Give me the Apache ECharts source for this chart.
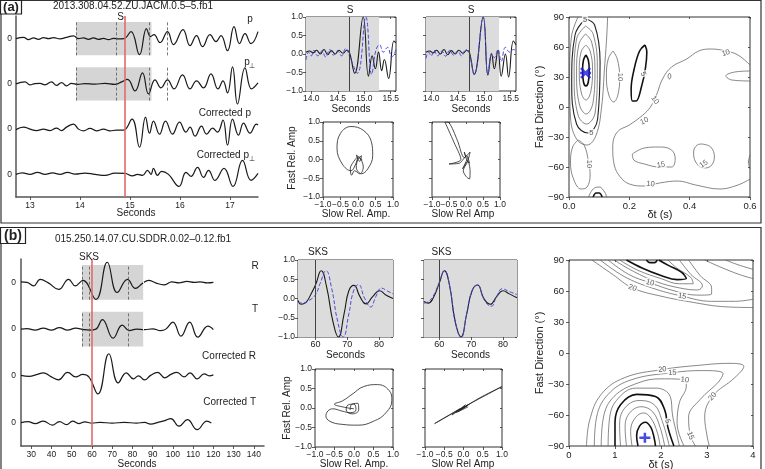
<!DOCTYPE html>
<html><head><meta charset="utf-8">
<script src="https://cdn.jsdelivr.net/npm/echarts@6/dist/echarts.min.js"></script>
<style>html,body{margin:0;padding:0;background:#fff}#c{width:765px;height:469px}</style>
</head><body><div id="c"></div><script>
// ---------------- DATA ----------------
// Panel (a) seismograms: [time s, relative amplitude]
const aTraceP = [[12.72,0],[12.87,1.3],[12.97,-1],[13.07,0.7],[13.17,-0.7],[13.27,1],[13.37,0],[13.47,1],[13.6,-0.3],[13.73,1.3],[13.87,2.7],[13.97,0],[14.07,0.7],[14.17,-0.7],[14.27,0.7],[14.37,-0.7],[14.47,0.3],[14.57,-1],[14.67,0.3],[14.77,-0.3],[14.88,0],[15.02,7],[15.19,-16],[15.33,10],[15.41,2],[15.48,4],[15.6,-4],[15.75,7],[15.87,-6],[16.06,9],[16.2,-7],[16.33,3],[16.45,-8],[16.6,4],[16.72,-3],[16.82,3],[16.95,-12],[17.08,12],[17.19,-5],[17.3,5],[17.42,-5],[17.56,7]];
const aTracePerp = [[12.72,0],[12.9,2],[13.0,-1],[13.1,0.3],[13.2,0.5],[13.3,-1],[13.43,2],[13.53,-1.5],[13.63,1.3],[13.73,-2],[13.83,0.5],[13.95,-0.5],[14.1,0.3],[14.3,-0.3],[14.5,0.5],[14.7,-0.5],[14.82,1.7],[14.95,4.5],[15.1,-7],[15.25,11],[15.37,-10],[15.5,4],[15.62,-4],[15.75,4],[15.88,-5],[16.05,9],[16.2,-5],[16.33,3],[16.47,-4],[16.62,10],[16.76,-5],[16.86,3],[16.95,-9],[17.05,17],[17.15,-20],[17.3,16],[17.43,-5],[17.56,1]];
const aTraceCorrP = [[12.72,-0.5],[12.87,2],[13.0,0],[13.13,-1.5],[13.27,0],[13.4,-1.5],[13.53,1],[13.63,-1.5],[13.73,2],[13.87,5],[13.97,0],[14.07,-1.7],[14.2,0.7],[14.33,-1.7],[14.47,0],[14.6,-1.7],[14.73,-1],[14.87,-1],[15.04,10],[15.19,-18],[15.31,12],[15.39,-4],[15.47,8],[15.59,-5],[15.71,8],[15.85,-5],[15.99,7],[16.12,-3],[16.2,2],[16.3,-7],[16.43,3],[16.53,-5],[16.65,1],[16.75,-3],[16.86,9],[16.95,-16],[17.05,10],[17.17,-6],[17.27,6],[17.4,-4],[17.53,5],[17.56,4]];
const aTraceCorrPerp = [[12.72,0],[12.85,1.5],[13.0,0],[13.15,2],[13.3,0],[13.45,1.5],[13.6,0],[13.75,2],[13.9,0.3],[14.1,1.3],[14.3,0],[14.5,-1],[14.7,1.3],[14.9,1],[15.05,-1.5],[15.15,0],[15.25,-1],[15.35,4],[15.42,0],[15.47,6],[15.55,-1],[15.63,3],[15.77,0],[15.98,-12],[16.12,2],[16.22,-2],[16.35,7],[16.47,-3],[16.57,4],[16.7,-6],[16.88,6],[17.06,-12],[17.25,14],[17.42,-6],[17.56,1]];
const aBaselines = [3.5, 2.5, 1.5, 0.5];
const aWindow = [13.92, 15.43];
const aPicks = [13.92, 14.72, 15.38, 15.75];
const aArrival = 14.89;
const aTimeTicks = [13, 14, 15, 16, 17];

// Panel (a) fast/slow windows [time, normalised amp]
const aFastS = [[13.9,0.05],[13.97,0.08],[14.03,0.03],[14.1,0.1],[14.17,0.0],[14.24,0.12],[14.31,-0.02],[14.38,0.09],[14.45,0.0],[14.52,0.1],[14.6,0.02],[14.67,0.1],[14.72,0.04],[14.82,-0.52],[14.98,1.0],[15.08,-0.6],[15.15,-0.05],[15.21,-0.4],[15.27,0.05],[15.33,-0.45],[15.38,-0.15],[15.46,-0.66],[15.56,0.35],[15.6,0.3]];
const aSlowS = [[13.9,-0.16],[13.95,0.05],[14.0,-0.05],[14.05,0.1],[14.12,-0.05],[14.2,0.08],[14.27,-0.08],[14.35,0.12],[14.42,-0.03],[14.5,0.08],[14.57,-0.05],[14.65,0.15],[14.72,-0.05],[14.87,-0.52],[15.03,1.0],[15.14,-0.55],[15.22,0.1],[15.29,0.25],[15.36,0.05],[15.44,0.18],[15.52,-0.08],[15.6,0.12]];
const aFastCorr = [[13.9,0.05],[13.97,0.08],[14.03,0.03],[14.1,0.1],[14.17,0.0],[14.24,0.12],[14.31,-0.02],[14.38,0.09],[14.45,0.0],[14.52,0.1],[14.6,0.02],[14.67,0.1],[14.72,0.04],[14.81,-0.55],[14.98,1.0],[15.07,-0.57],[15.14,0.0],[15.19,-0.4],[15.26,0.1],[15.32,-0.6],[15.4,0.0],[15.46,-0.62],[15.55,0.35],[15.6,0.25]];
const aSlowCorr = [[13.9,-0.12],[13.95,0.05],[14.0,-0.05],[14.05,0.1],[14.12,-0.05],[14.2,0.08],[14.27,-0.06],[14.35,0.1],[14.42,-0.03],[14.5,0.08],[14.57,-0.05],[14.65,0.12],[14.72,-0.02],[14.81,-0.55],[14.98,1.0],[15.07,-0.55],[15.14,0.02],[15.19,-0.1],[15.26,0.12],[15.32,-0.2],[15.4,0.18],[15.48,0.05],[15.55,0.12],[15.6,0.1]];
const aMidWindow = [13.9, 15.28];
const aMidPick = 14.71;
const aMidTicks = [14.0, 14.5, 15.0, 15.5];

// Panel (a) particle motion [slow, fast]
const aPMRaw = [[0.02,0.05],[0.1,0.1],[0.05,-0.05],[-0.05,0.12],[0.08,0.0],[0.15,-0.2],[0.05,-0.38],[-0.1,-0.3],[-0.18,-0.42],[-0.22,-0.25],[-0.12,-0.05],[0.0,0.08],[-0.08,-0.15],[-0.2,-0.3],[-0.45,-0.12],[-0.6,0.3],[-0.5,0.7],[-0.2,0.88],[0.15,0.78],[0.38,0.48],[0.42,0.1],[0.28,-0.25],[0.1,-0.38],[-0.05,-0.2],[0.05,0.05],[0.12,-0.02]];
const aPMCorr = [[0.0,0.05],[-0.05,0.2],[0.02,0.0],[0.1,-0.1],[0.02,0.1],[-0.2,-0.1],[-0.5,-0.12],[-0.15,0.0],[-0.35,0.45],[-0.62,1.0],[-0.5,0.98],[-0.25,0.5],[-0.05,0.05],[0.12,0.2],[0.05,-0.05],[-0.08,-0.3],[0.0,-0.45],[0.1,-0.52],[0.12,-0.3],[0.05,-0.05],[-0.1,-0.25],[-0.02,-0.1],[0.05,0.05]];

// Panel (a) grid search contours [dt s, fast direction deg]
const aThickContours = [
  [[0.056,52],[0.064,47],[0.067,37],[0.064,25],[0.056,21],[0.048,25],[0.045,37],[0.048,47],[0.056,52]],
  [[0.252,62],[0.258,55],[0.253,38],[0.24,20],[0.222,6],[0.21,6],[0.206,18],[0.216,38],[0.234,56],[0.252,62]],
  [[0.08,-90],[0.09,-86],[0.1,-86],[0.11,-90]]
];
const aMidContours = [
  [[0.055,88],[0.085,82],[0.103,45],[0.095,-12],[0.062,-26],[0.025,-17],[0.009,25],[0.02,72],[0.055,88]]
];
const aThinContours = [
  [[0.056,62],[0.07,56],[0.078,38],[0.072,15],[0.056,7],[0.041,14],[0.034,35],[0.04,55],[0.056,62]],
  [[0.055,73],[0.075,65],[0.086,38],[0.08,5],[0.057,-7],[0.035,2],[0.025,33],[0.033,63],[0.055,73]],
  [[0.055,81],[0.08,73],[0.094,40],[0.087,-5],[0.058,-17],[0.03,-8],[0.017,30],[0.025,68],[0.055,81]],
  [[0.03,90],[0.008,70],[0.002,30],[0.005,-10],[0.025,-32],[0.06,-38],[0.09,-28],[0.108,0],[0.118,40],[0.125,70],[0.128,90]],
  [[0.146,56],[0.16,48],[0.168,30],[0.162,12],[0.148,5],[0.132,12],[0.124,30],[0.13,48],[0.146,56]],
  [[0.6,42],[0.56,52],[0.52,56],[0.47,58],[0.43,56],[0.39,48],[0.34,40],[0.31,28],[0.29,12],[0.27,0],[0.245,-8],[0.2,-18],[0.16,-25],[0.145,-40],[0.15,-58],[0.17,-70],[0.2,-77],[0.25,-79],[0.3,-76],[0.36,-74],[0.42,-78],[0.5,-82],[0.56,-78],[0.6,-72]],
  [[0.6,36],[0.55,35],[0.52,31],[0.54,27],[0.6,26]],
  [[0.21,-47],[0.25,-41],[0.3,-40],[0.34,-43],[0.352,-52],[0.34,-60],[0.3,-60],[0.25,-57],[0.215,-53],[0.21,-47]],
  [[0.44,-37],[0.47,-40],[0.482,-50],[0.47,-59],[0.445,-61],[0.42,-55],[0.413,-45],[0.425,-38],[0.44,-37]],
  [[0.03,-33],[0.05,-38],[0.065,-55],[0.07,-68],[0.06,-80],[0.04,-82],[0.015,-72],[0.005,-55],[0.012,-40],[0.03,-33]],
  [[0.065,-90],[0.08,-82],[0.1,-80],[0.118,-85],[0.125,-90]],
  [[0.333,34],[0.338,31],[0.333,28],[0.328,31],[0.333,34]],
  [[0.6,-48],[0.595,-55],[0.6,-62]]
];
const aContourLabels = [[0.053,87,'5',0],[0.074,-26,'5',0],[0.168,30,'10',-90],[0.246,33,'5',-70],[0.52,54,'10',20],[0.285,7,'10',-55],[0.25,-14,'10',25],[0.27,-77,'10',-8],[0.305,-58,'15',10],[0.447,-57,'15',35],[0.066,-57,'10',-90]];
const aBest = [[0.055, 34]];

// Panel (b) seismograms
const bTraceR = [[25,0.5],[28,0],[31.2,-3.5],[34.5,3],[38.5,-0.5],[43.6,-7],[48.5,3],[51.8,-3.5],[55.6,2],[62,-17],[67.6,20],[72.5,-10],[77.6,3],[81.5,-6],[85,-1],[88,2],[91.5,-0.5],[95.5,-2.5],[99.5,0.5],[103,-0.5],[107,1],[110.5,0],[113.5,0.5],[117,-0.5],[120,0]];
const bTraceT = [[25,0],[28,0.5],[32,-1],[36,1],[40,-1],[44,1.5],[48,-1],[52,1],[56,-0.5],[59,-1],[62,0],[65.2,9.5],[70.5,-9],[75,4],[78.5,-1.5],[82,0],[86,-0.5],[90,0.3],[94,-1.5],[96.5,0],[100,7],[104,-7],[108.3,7],[112.3,-8],[117.3,3],[120,-0.5]];
const bTraceCorrR = [[25,0.5],[29,-0.5],[33,1.5],[36,3],[40,-1],[43.5,-4],[48,3.5],[52,-1],[55.5,1.5],[58.5,-1],[63,-18],[68.4,22],[73,-7],[77,3],[80.5,-3],[83,0],[86,-4],[89,0.5],[92.5,3.5],[96,-2],[99,1.5],[102,3.5],[105.5,-1],[108.5,3],[112,-3],[115.5,2],[118,0],[120,1]];
const bTraceCorrT = [[25,0],[28.5,1],[32,-1],[36,1.5],[40.5,-2.5],[44,1],[47.5,-2],[50.5,1.5],[53.5,-1],[56.5,0.8],[60,-0.5],[64,0.3],[70,-0.5],[76,0.3],[82,-0.5],[86,0.3],[89,-1.5],[93,0.5],[96,2],[99,4],[103,-3.5],[107.2,3],[112,-7],[116.8,1.5],[119,-0.5]];
const bBaselines = [3.5, 2.5, 1.5, 0.5];
const bWindow = [55.1, 85.3];
const bPicks = [55.1, 58.7, 78.2];
const bArrival = 60;
const bTimeTicks = [30,40,50,60,70,80,90,100,110,120,130,140];

const bFastS = [[54.5,-0.05],[55.5,-0.15],[57,-0.1],[58.5,0.1],[60,0.35],[61.8,0.72],[63.5,0.3],[65.5,-0.6],[67.2,-1.0],[69,-0.4],[70.5,0.2],[72.1,0.34],[74,0.05],[75.9,-0.14],[78,0.05],[80.2,0.2],[82,0.1],[84.4,0.0]];
const bSlowS = [[54.5,-0.1],[56,-0.12],[58,-0.05],[60,0.1],[61.5,0.4],[63.3,0.72],[65,0.3],[67,-0.6],[68.7,-1.0],[70.5,-0.4],[72,0.2],[73.5,0.36],[75.5,0.0],[77.4,-0.22],[79,0.05],[80.8,0.27],[82.5,0.2],[84.4,0.12]];
const bFastCorr = [[55.2,-0.08],[56.5,-0.12],[58,0.0],[60,0.4],[61.6,0.72],[63.2,0.35],[65,-0.6],[66.8,-1.0],[68.6,-0.4],[70.3,0.2],[72,0.35],[74,0.0],[76,-0.15],[78,0.05],[80,0.2],[82,0.12],[84.4,0.02]];
const bSlowCorr = [[55.2,-0.12],[56.5,-0.08],[58,0.05],[60,0.42],[61.6,0.72],[63.2,0.35],[65,-0.6],[66.8,-1.0],[68.6,-0.4],[70.3,0.2],[72,0.35],[74,-0.02],[76.3,-0.2],[78,0.05],[79.8,0.25],[82,0.18],[84.4,0.1]];
const bMidPick = 60;
const bMidTicks = [60, 70, 80];

const bPMRaw = [[-0.1,-0.05],[-0.05,0.1],[0.1,0.12],[0.12,-0.05],[-0.05,-0.15],[-0.2,-0.05],[-0.15,0.08],[0.0,0.1],[0.05,-0.05],[-0.1,-0.12],[-0.3,-0.08],[-0.55,-0.02],[-0.72,-0.2],[-0.62,-0.34],[-0.3,-0.42],[0.1,-0.44],[0.5,-0.34],[0.82,-0.12],[0.97,0.2],[0.9,0.45],[0.6,0.6],[0.25,0.55],[-0.05,0.35],[-0.3,0.18],[-0.5,0.1],[-0.25,0.02],[0.0,-0.02]];
const bPMCorr = [[0.0,0.0],[0.15,0.1],[-0.1,-0.05],[0.05,0.08],[-0.3,-0.18],[-0.1,-0.02],[-0.75,-0.4],[0.0,0.02],[1.0,0.55],[0.4,0.25],[-0.2,-0.12],[0.1,0.06],[-0.15,-0.1],[0.12,0.03]];

const bThickContours = [
  [[1.68,90],[1.76,87.5],[1.86,87.5],[1.92,90]],
  [[1.25,90],[1.6,82],[2.0,75],[2.35,71],[2.55,72],[2.45,78],[2.15,85],[1.95,90]],
  [[1.5,-90],[1.47,-80],[1.53,-71],[1.66,-67],[1.78,-72],[1.85,-82],[1.88,-90]],
  [[1.0,-90],[1.0,-67],[1.12,-50],[1.47,-40],[1.88,-42],[2.08,-55],[2.15,-72],[2.28,-90]]
];
const bThinContours = [
  [[1.1,90],[1.5,80],[2.0,72],[2.4,67],[2.7,67],[2.65,73],[2.35,82],[2.15,90]],
  [[0.98,90],[1.4,79],[1.9,69],[2.4,63],[2.8,61],[2.9,65],[2.65,76],[2.4,90]],
  [[0.85,90],[1.3,76],[1.76,68],[2.3,60],[2.8,56],[3.1,57],[3.1,63],[2.85,75],[2.6,90]],
  [[0.68,90],[1.2,74],[1.8,63],[2.46,55],[3.1,50],[3.6,50],[4.0,52]],
  [[0.5,90],[0.95,76],[1.38,63],[2.0,55],[2.7,49],[3.3,45],[4.0,44]],
  [[2.95,90],[3.3,83],[3.7,76],[4.0,72]],
  [[3.4,90],[3.7,85],[4.0,81]],
  [[1.37,-90],[1.34,-76],[1.42,-64],[1.62,-58],[1.78,-63],[1.92,-77],[1.98,-90]],
  [[1.25,-90],[1.22,-73],[1.3,-59],[1.57,-52],[1.82,-57],[1.98,-72],[2.08,-90]],
  [[1.12,-90],[1.1,-70],[1.2,-54],[1.52,-46],[1.85,-50],[2.02,-65],[2.18,-90]],
  [[0.85,-90],[0.88,-64],[1.03,-46],[1.45,-34],[1.9,-34],[2.2,-42],[2.25,-60],[2.35,-80],[2.4,-90]],
  [[0.7,-90],[0.75,-62],[0.98,-42],[1.5,-29],[2.0,-25],[2.52,-26],[2.55,-32],[2.4,-48],[2.35,-68],[2.5,-90]],
  [[0.55,-90],[0.6,-62],[0.85,-40],[1.35,-26],[2.25,-19],[2.9,-17],[3.35,-20],[3.25,-28],[2.85,-45],[2.6,-62],[2.64,-80],[2.75,-90]],
  [[0.38,-90],[0.45,-65],[0.7,-40],[1.2,-24],[2.03,-16],[2.8,-12],[3.5,-10],[3.8,-13],[3.6,-24],[3.12,-42],[2.95,-62],[3.0,-80],[3.05,-90]]
];
const bContourLabels = [[1.76,68,'10',-15],[1.38,63,'20',-22],[2.46,55,'15',-10],[2.03,-16,'20',5],[2.25,-19,'15',3],[2.52,-26,'10',-5],[3.12,-42,'20',52],[2.64,-80,'15',-70],[2.14,-66,'5',-65]];
const bBest = [[1.65, -82]];

// ---------------- CHART ----------------
const FONT = '"Liberation Sans", Arial, Helvetica, sans-serif';
const TXT = '#222';
const AX = '#333';
const aGain = 1 / 45, bGain = 1 / 46.5;
const minus = v => String(v).replace('-', '\u2212');
const f1 = v => minus(v.toFixed(1));

const grids = [
  {left:16, top:16, width:242, height:181},
  {left:306, top:17, width:90, height:74},
  {left:426, top:17, width:90, height:74},
  {left:323, top:122, width:70, height:75},
  {left:432, top:122, width:68, height:75},
  {left:569, top:17, width:181, height:180},
  {left:21, top:259, width:243, height:187},
  {left:298, top:260, width:95, height:77},
  {left:424, top:260, width:93, height:77},
  {left:315, top:369, width:78, height:78},
  {left:425, top:369, width:77, height:78},
  {left:569, top:260, width:184, height:186}
].map((g, i) => Object.assign({containLabel:false}, g, (i === 0 || i === 6) ? {show:false} : {show:true, borderColor:AX, borderWidth:1, backgroundColor:'#fff'}));

const lbl = (extra) => Object.assign({color:TXT, fontFamily:FONT, fontSize:8.5, margin:3}, extra);
const tick = (extra) => Object.assign({show:true, length:3, lineStyle:{color:AX, width:0.8}}, extra);
function frameAxis(gi, min, max, interval, fmt, extra) {
  return Object.assign({gridIndex:gi, type:'value', min, max, interval,
    axisLine:{show:false, onZero:false}, splitLine:{show:false},
    axisTick:tick({}), axisLabel:lbl({formatter:fmt})}, extra || {});
}
const xAxes = [
  {gridIndex:0, type:'value', min:12.72, max:17.56, splitLine:{show:false},
    axisLine:{show:true, onZero:false, lineStyle:{color:'#555', width:1.5}},
    axisTick:tick({customValues:aTimeTicks}), axisLabel:lbl({customValues:aTimeTicks, margin:4})},
  frameAxis(1, 13.9, 15.6, null, f1, {axisTick:tick({customValues:aMidTicks}), axisLabel:lbl({customValues:aMidTicks, formatter:f1})}),
  frameAxis(2, 13.9, 15.6, null, f1, {axisTick:tick({customValues:aMidTicks}), axisLabel:lbl({customValues:aMidTicks, formatter:f1})}),
  frameAxis(3, -1, 1, 0.5, f1),
  frameAxis(4, -1, 1, 0.5, f1),
  frameAxis(5, 0, 0.6, 0.2, f1, {axisLabel:lbl({formatter:f1, fontSize:9.5, margin:4})}),
  {gridIndex:6, type:'value', min:25, max:145, splitLine:{show:false},
    axisLine:{show:true, onZero:false, lineStyle:{color:'#555', width:1.5}},
    axisTick:tick({customValues:bTimeTicks}), axisLabel:lbl({customValues:bTimeTicks, margin:4})},
  frameAxis(7, 54.5, 84.4, null, null, {axisTick:tick({customValues:bMidTicks}), axisLabel:lbl({customValues:bMidTicks, fontSize:9})}),
  frameAxis(8, 55.2, 84.4, null, null, {axisTick:tick({customValues:bMidTicks}), axisLabel:lbl({customValues:bMidTicks, fontSize:9})}),
  frameAxis(9, -1, 1, 0.5, f1),
  frameAxis(10, -1, 1, 0.5, f1),
  frameAxis(11, 0, 4, 1, v => String(v), {axisLabel:lbl({fontSize:9.5, margin:4})})
];
const yAxes = [
  {gridIndex:0, type:'value', min:0, max:4, splitLine:{show:false},
    axisLine:{show:true, onZero:false, lineStyle:{color:'#555', width:1.5}},
    axisTick:{show:false}, axisLabel:lbl({customValues:aBaselines, formatter:() => '0', margin:4})},
  frameAxis(1, -1, 1, 0.5, f1),
  frameAxis(2, -1, 1, 0.5, () => ''),
  frameAxis(3, -1, 1, 0.5, f1),
  frameAxis(4, -1, 1, 0.5, () => ''),
  frameAxis(5, -90, 90, 30, minus, {axisLabel:lbl({formatter:minus, fontSize:9.5, margin:5})}),
  {gridIndex:6, type:'value', min:0, max:4, splitLine:{show:false},
    axisLine:{show:true, onZero:false, lineStyle:{color:'#555', width:1.5}},
    axisTick:{show:false}, axisLabel:lbl({customValues:bBaselines, formatter:() => '0', margin:5})},
  frameAxis(7, -1, 1, 0.5, f1),
  frameAxis(8, -1, 1, 0.5, () => ''),
  frameAxis(9, -1, 1, 0.5, f1),
  frameAxis(10, -1, 1, 0.5, () => ''),
  frameAxis(11, -90, 90, 30, minus, {axisLabel:lbl({formatter:minus, fontSize:9.5, margin:5})})
];
// tick-only opposite sides (top / right) of the framed plots
[1,2,3,4,5,7,8,9,10,11].forEach(gi => {
  const bx = xAxes[gi], by = yAxes[gi];
  xAxes.push({gridIndex:gi, type:'value', position:'top', min:bx.min, max:bx.max, interval:bx.interval,
    axisLine:{show:false, onZero:false}, splitLine:{show:false}, axisLabel:{show:false},
    axisTick:tick({inside:true, length:2, customValues:bx.axisTick.customValues})});
  yAxes.push({gridIndex:gi, type:'value', position:'right', min:by.min, max:by.max, interval:by.interval,
    axisLine:{show:false, onZero:false}, splitLine:{show:false}, axisLabel:{show:false},
    axisTick:tick({inside:true, length:2})});
});

const series = [];
function line(gi, data, style, extra) {
  series.push(Object.assign({type:'line', xAxisIndex:gi, yAxisIndex:gi, data, showSymbol:false, symbol:'none',
    smooth:0.45, lineStyle:style, silent:true, animation:false, clip:true, z:3}, extra || {}));
}
const blackW = {color:'#1a1a1a', width:1.1};
// seismogram traces
[[aTraceP,0],[aTracePerp,1],[aTraceCorrP,2],[aTraceCorrPerp,3]].forEach(([tr, k]) =>
  line(0, tr.map(p => [p[0], aBaselines[k] + p[1] * aGain]), {color:'#1a1a1a', width:1.2}));
[[bTraceR,0],[bTraceT,1],[bTraceCorrR,2],[bTraceCorrT,3]].forEach(([tr, k]) =>
  line(6, tr.map(p => [p[0], bBaselines[k] + p[1] * bGain]), {color:'#1a1a1a', width:1.2}));

// windows / picks for seismograms
function traceMarkers(gi, win, picks, arrival, rightEdgeDotted) {
  const half = 0.37;
  const areas = [], lines = [];
  [0, 1].forEach(k => {
    const base = (gi === 0 ? aBaselines : bBaselines)[k];
    areas.push([{coord:[win[0], base - half]}, {coord:[win[1], base + half]}]);
    picks.forEach(p => lines.push([{coord:[p, base - half]}, {coord:[p, base + half]}]));
  });
  series.push({type:'line', xAxisIndex:gi, yAxisIndex:gi, data:[], z:1, silent:true, animation:false,
    markArea:{silent:true, itemStyle:{color:'#d5d5d5'}, data:areas},
    markLine:{silent:true, symbol:['none','none'], label:{show:false}, lineStyle:{color:'#555', type:[3,2], width:0.8}, data:lines}});
  if (rightEdgeDotted) {
    const edges = [0,1].map(k => { const base = bBaselines[k]; return [{coord:[win[1], base - half]}, {coord:[win[1], base + half]}]; });
    series.push({type:'line', xAxisIndex:gi, yAxisIndex:gi, data:[], z:2, silent:true, animation:false,
      markLine:{silent:true, symbol:['none','none'], label:{show:false}, lineStyle:{color:'#f4f4f4', type:[2,2], width:1}, data:edges}});
  }
  series.push({type:'line', xAxisIndex:gi, yAxisIndex:gi, data:[], z:5, silent:true, animation:false,
    markLine:{silent:true, symbol:['none','none'], label:{show:false}, lineStyle:{color:'#e46a6a', type:'solid', width:1.6}, data:[{xAxis:arrival}]}});
}
traceMarkers(0, aWindow, aPicks, aArrival, false);
traceMarkers(6, bWindow, bPicks, bArrival, true);

// mid window plots
function midMarkers(gi, x0, x1, pick) {
  series.push({type:'line', xAxisIndex:gi, yAxisIndex:gi, data:[], z:1, silent:true, animation:false,
    markArea:{silent:true, itemStyle:{color:'#dcdcdc'}, data:[[{coord:[x0,-1]},{coord:[x1,1]}]]},
    markLine:{silent:true, symbol:['none','none'], label:{show:false}, lineStyle:{color:'#444', type:'solid', width:1}, data:[{xAxis:pick}]}});
}
midMarkers(1, aMidWindow[0], aMidWindow[1], aMidPick);
midMarkers(2, aMidWindow[0], aMidWindow[1], aMidPick);
midMarkers(7, 54.5, 84.4, bMidPick);
midMarkers(8, 55.2, 84.4, bMidPick);
const blueD = {color:'#4a4ad8', width:1, type:[4,2]};
line(1, aFastS, blackW); line(1, aSlowS, blueD);
line(2, aFastCorr, blackW); line(2, aSlowCorr, blueD);
line(7, bFastS, blackW, {smooth:0.5}); line(7, bSlowS, blueD, {smooth:0.5});
line(8, bFastCorr, blackW, {smooth:0.5}); line(8, bSlowCorr, blueD, {smooth:0.5});

// particle motion
const pmStyle = {color:'#222', width:0.8};
line(3, aPMRaw, pmStyle, {smooth:0.4});
line(4, aPMCorr, pmStyle, {smooth:0.3});
line(9, bPMRaw, pmStyle, {smooth:0.45});
line(10, bPMCorr, pmStyle, {smooth:0.2});

// contours
function contours(gi, thin, mid, thick, labels, best, markerPath) {
  thin.forEach(c => line(gi, c, {color:'#555', width:0.7}, {smooth:0.4}));
  mid.forEach(c => line(gi, c, {color:'#222', width:1.1}, {smooth:0.4}));
  thick.forEach(c => line(gi, c, {color:'#111', width:1.6}, {smooth:0.4}));
  series.push({type:'scatter', xAxisIndex:gi, yAxisIndex:gi, symbolSize:0, silent:true, animation:false, z:6,
    data: labels.map(l => ({value:[l[0], l[1]], label:{show:true, position:'inside', formatter:l[2], rotate:l[3],
      color:'#333', fontFamily:FONT, fontSize:7.5, backgroundColor:'#fff', padding:[0,1]}}))});
  series.push({type:'scatter', xAxisIndex:gi, yAxisIndex:gi, data:best, symbol:markerPath, symbolSize:[11,10],
    itemStyle:{color:'rgba(0,0,0,0)', borderColor:'#1c1cdc', borderWidth:2.4}, silent:true, animation:false, z:7});
}
contours(5, aThinContours, aMidContours, aThickContours, aContourLabels, aBest, 'path://M0,0L10,10M10,0L0,10M-1,5L11,5');
contours(11, bThinContours, [], bThickContours, bContourLabels, bBest, 'path://M5,0L5,10M0,5L10,5');

// ---------------- TEXT / FRAMES ----------------
function T(text, x, y, opt) {
  opt = opt || {};
  return {type:'text', x, y, rotation: opt.rot || 0, z:10, silent:true,
    style:{text, fill:TXT, font:(opt.bold ? 'bold ' : '') + (opt.size || 10) + 'px ' + FONT,
      align:opt.align || 'center', textAlign:opt.align || 'center', verticalAlign:'middle', textVerticalAlign:'middle'}};
}
const R90 = Math.PI / 2;
const graphics = [
  {type:'rect', shape:{x:1, y:0.5, width:760, height:222.5}, style:{fill:'none', stroke:'#333', lineWidth:1.2}, z:0, silent:true},
  {type:'rect', shape:{x:1, y:227.5, width:760, height:250}, style:{fill:'none', stroke:'#333', lineWidth:1.2}, z:0, silent:true},
  {type:'rect', shape:{x:0.5, y:0.5, width:21, height:13.5}, style:{fill:'#fff', stroke:'#222', lineWidth:1.2}, z:9, silent:true},
  {type:'rect', shape:{x:0.5, y:227.5, width:25, height:16}, style:{fill:'#fff', stroke:'#222', lineWidth:1.2}, z:9, silent:true},
  T('(a)', 11, 7.5, {bold:true, size:13}),
  T('(b)', 13, 236, {bold:true, size:14}),
  // panel a
  T('2013.308.04.52.ZU.JACM.0.5\u20135.fb1', 133, 6),
  T('S', 120.5, 17),
  T('p', 250, 19),
  T('p', 247, 62), T('\u22a5', 252, 66, {size:7}),
  T('Corrected p', 251, 113, {align:'right'}),
  T('Corrected p', 249, 155, {align:'right'}), T('\u22a5', 251.5, 159, {size:7}),
  T('Seconds', 136, 213),
  T('S', 350, 10), T('S', 471, 10),
  T('Seconds', 351, 109), T('Seconds', 471, 109),
  T('Fast Rel. Amp', 292.5, 158, {rot:R90}),
  T('Slow Rel. Amp.', 356, 214), T('Slow Rel Amp', 463, 214),
  T('Fast Direction (\u00b0)', 539.5, 107, {rot:R90, size:11}),
  T('\u03b4t (s)', 660, 215, {size:11}),
  // panel b
  T('015.250.14.07.CU.SDDR.0.02\u20130.12.fb1', 143, 239),
  T('SKS', 89, 257),
  T('R', 255, 266), T('T', 255, 309),
  T('Corrected R', 256, 356, {align:'right'}),
  T('Corrected T', 256, 402, {align:'right'}),
  T('Seconds', 137, 464),
  T('SKS', 318, 252), T('SKS', 441.5, 252),
  T('Seconds', 345.5, 355.5), T('Seconds', 470.5, 355.5),
  T('Fast Rel. Amp', 287.5, 408, {rot:R90}),
  T('Slow Rel. Amp.', 354, 464), T('Slow Rel Amp', 463, 464),
  T('Fast Direction (\u00b0)', 539.5, 353, {rot:R90, size:11}),
  T('\u03b4t (s)', 661, 465, {size:11})
];

const chart = echarts.init(document.getElementById('c'), null, {renderer:'canvas', width:765, height:469});
chart.setOption({
  animation:false, backgroundColor:'#fff',
  grid:grids, xAxis:xAxes, yAxis:yAxes, series, graphic:graphics
});
</script></body></html>
